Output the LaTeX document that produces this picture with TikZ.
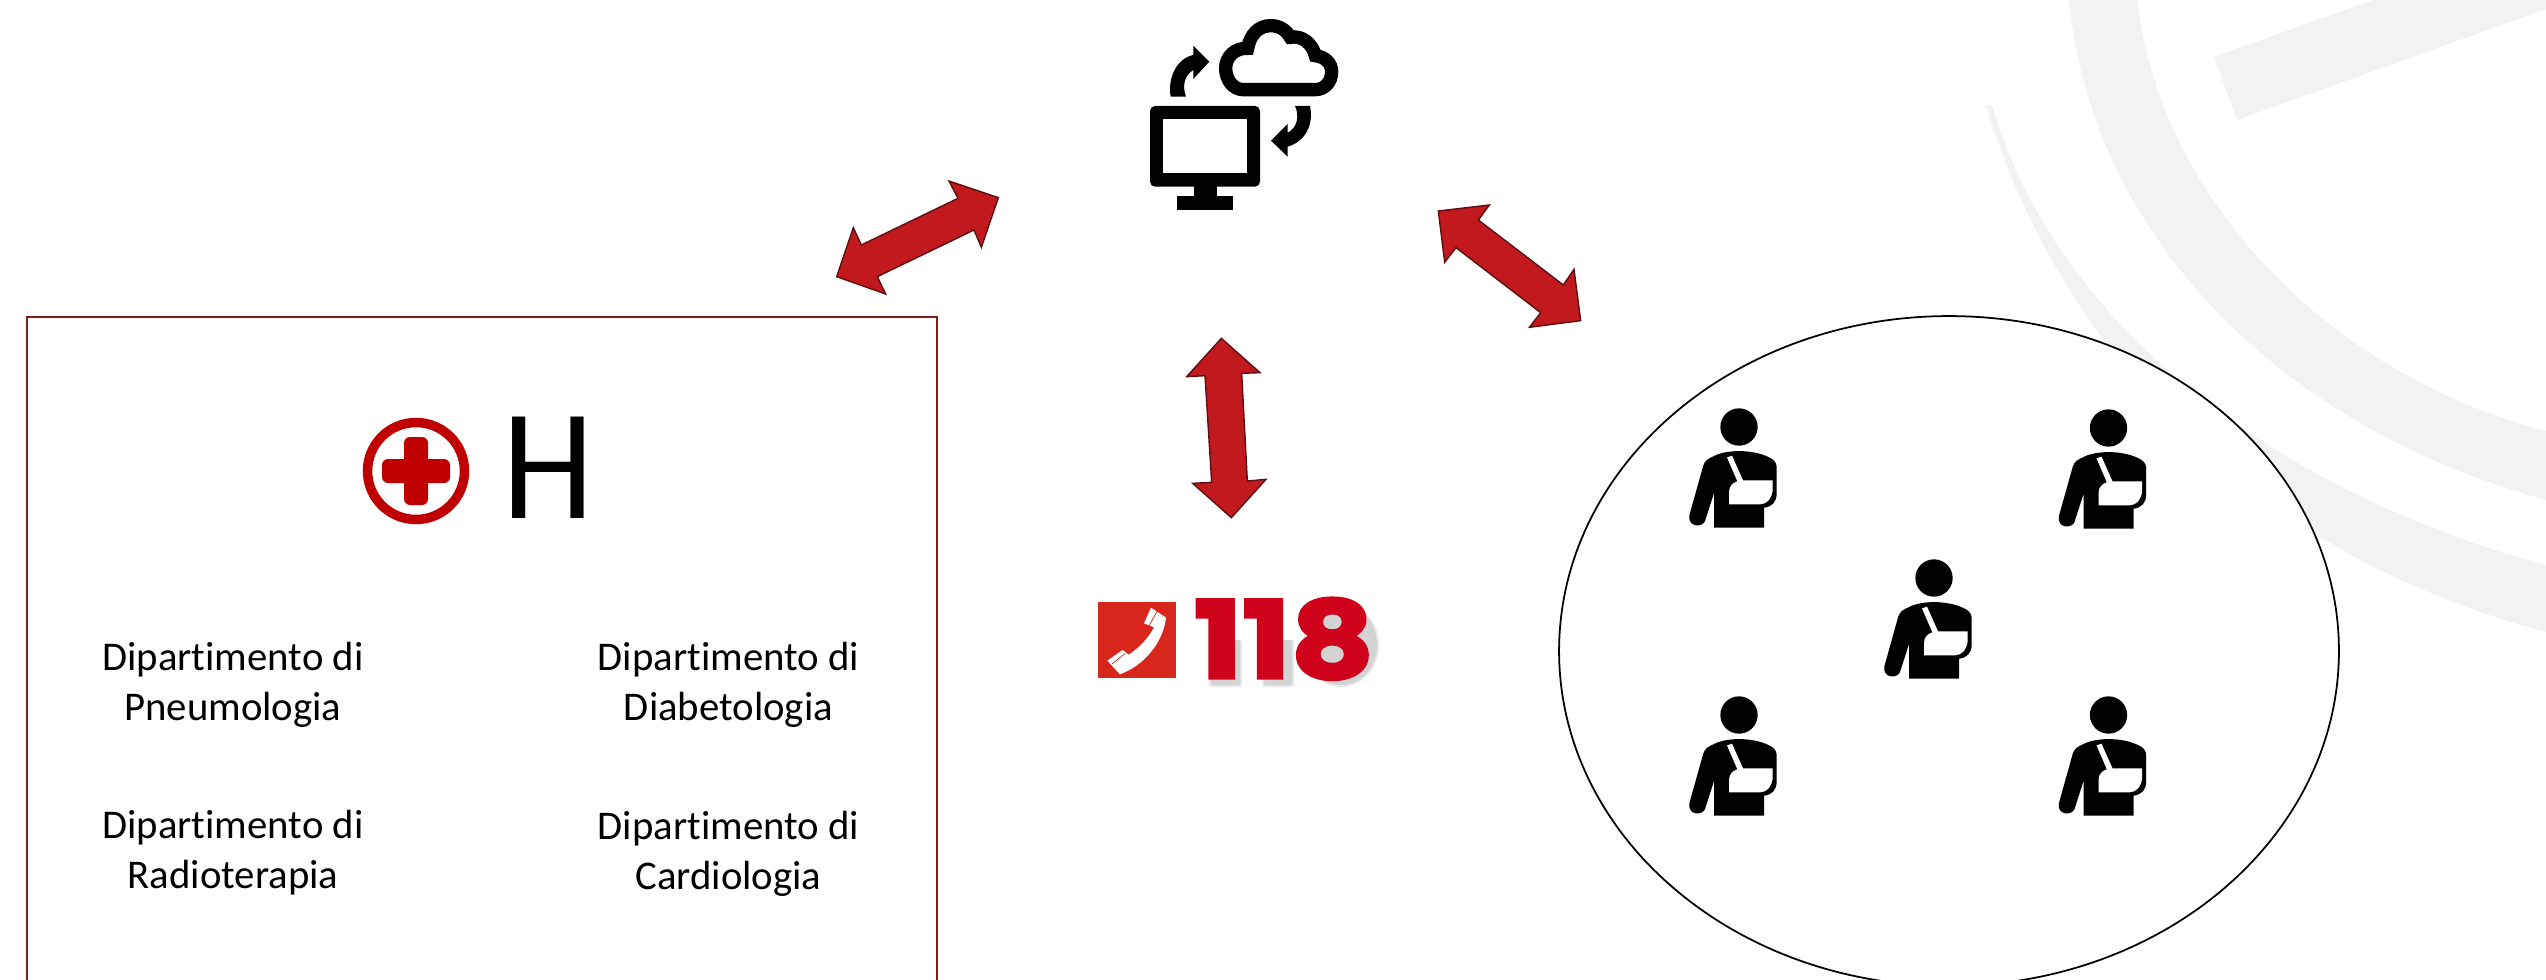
\documentclass[tikz,border=0pt]{standalone}
\usepackage{fontspec}
\setmainfont{Carlito}[Ligatures=NoCommon]
\newfontfamily\numfont[BoldFeatures={FakeBold=3.2,FakeStretch=1.2}]{Poppins}
\usetikzlibrary{shapes.geometric}
\definecolor{wm}{HTML}{F2F2F2}
\definecolor{arrowred}{HTML}{C1191E}
\definecolor{arrowline}{HTML}{5E0F0F}
\definecolor{boxline}{HTML}{7F1D1D}
\definecolor{crossred}{HTML}{C00000}
\definecolor{phonered}{HTML}{D9261C}
\definecolor{numred}{HTML}{D0021B}
\tikzset{
  x=0.02cm,y=-0.02cm,
  blockarrow/.style={fill=arrowred,draw=arrowline,line width=0.8pt,line join=miter},
  dept/.style={align=center,font=\fontsize{23.2}{28.35}\selectfont,inner sep=0pt},
  pics/injured/.style={code={
    \begin{scope}[scale=1/3,shift={(-237,-110)}]
      \fill[black] (237,110) circle[radius=56];
      \fill[black] (130,225) .. controls (135,210) and (145,205) .. (160,198)
        .. controls (200,176) and (285,176) .. (335,205)
        .. controls (345,212) and (350,220) .. (350,232) -- (350,310)
        .. controls (350,335) and (335,350) .. (312,352) -- (312,412) -- (162,412) -- (162,308)
        -- (135,392) .. controls (128,412) and (82,412) .. (88,375) -- cycle;
      \fill[white] (207,342) -- (207,305) .. controls (207,288) and (218,277) .. (232,273)
        -- (201,201) -- (216,196) -- (249,270) -- (338,270) -- (338,300)
        .. controls (335,325) and (320,342) .. (300,342) -- cycle;
    \end{scope}
  }}
}
\begin{document}
\begin{tikzpicture}
\useasboundingbox (0,0) rectangle (2546,980);
\clip (0,0) rectangle (2546,980);
\fill[white] (0,0) rectangle (2546,980);
% watermark
\fill[wm] (2069,0) .. controls (2090,220) and (2260,420) .. (2546,500) -- (2546,431)
  .. controls (2330,375) and (2160,200) .. (2137,0) -- cycle;
\fill[wm] (2214,57) -- (2237,120) -- (2546,9) -- (2546,0) -- (2373,0) -- cycle;
\fill[wm] (1986,105) .. controls (2040,290) and (2200,540) .. (2546,632) -- (2546,565)
  .. controls (2300,500) and (2060,340) .. (1992,105) -- cycle;
% containers
\node[draw=boxline,line width=1pt,fill=white,minimum width=18.2cm,minimum height=14.48cm,inner sep=0pt] (hospital) at (482,679) {};
\node[draw=black,line width=1pt,fill=white,ellipse,minimum width=15.6cm,minimum height=13.4cm,inner sep=0pt] (patients) at (1949,651) {};
% block arrows
\draw[blockarrow,shift={(800,140)},scale=1/3] (447,123) -- (595,173) -- (544,322) -- (522,270) -- (232,410) -- (257,462) -- (110,410) -- (160,263) -- (184,315) -- (474,175) -- cycle;
\draw[blockarrow,shift={(1160,320)},scale=1/3] (184,55) -- (300,158) -- (245,160) -- (262,483) -- (318,478) -- (214,593) -- (98,490) -- (155,487) -- (135,167) -- (80,170) -- cycle;
\draw[blockarrow,shift={(1420,190)},scale=1/3] (55,63) -- (208,45) -- (175,90) -- (430,285) -- (462,238) -- (482,392) -- (328,412) -- (362,368) -- (108,173) -- (74,217) -- cycle;
% computer and cloud
\begin{scope}[shift={(1080,0)},scale=1/3]
  \fill[black,rounded corners=0.1cm] (210,318) rectangle (540,560);
  \fill[white] (250,358) rectangle (500,520);
  \fill[black] (341,555) rectangle (410,595);
  \fill[black] (292,588) rectangle (458,630);
  \draw[black,line width=0.267cm,line join=miter,miter limit=2]
    (490,269) .. controls (460,269) and (437,240) .. (437,205)
    .. controls (437,170) and (465,143) .. (503,145)
    .. controls (510,105) and (535,77) .. (572,77)
    .. controls (600,77) and (620,92) .. (631,112)
    .. controls (665,105) and (697,130) .. (706,167)
    .. controls (735,170) and (755,190) .. (755,215)
    .. controls (755,245) and (735,269) .. (705,269) -- cycle;
  \fill[black] (272,290) .. controls (262,235) and (290,175) .. (340,165) -- (340,137) -- (388,185) -- (340,237) -- (340,210)
    .. controls (315,225) and (305,255) .. (318,290) -- cycle;
  \fill[black] (690,318) .. controls (702,375) and (675,425) .. (623,440) -- (623,470) -- (573,422) -- (623,372) -- (623,398)
    .. controls (650,385) and (660,350) .. (645,318) -- cycle;
\end{scope}
% 118 logo
\fill[phonered] (1098,602) rectangle (1176,678);
\begin{scope}[shift={(1050,570)},scale=1/3]
  \fill[white] (303,113) -- (348,143) .. controls (340,215) and (285,285) .. (210,313)
    -- (172,272) -- (218,240) -- (236,254) .. controls (270,232) and (298,200) .. (312,172) -- (282,160) -- cycle;
  \draw[phonered,line width=0.4pt] (296,170) -- (322,122);
  \draw[phonered,line width=0.4pt] (186,282) -- (226,250);
\end{scope}
\foreach \o/\g in {0.09/2,0.09/0}{
  \fill[black,opacity=\o,rounded corners=0.04cm] (1211-\g,640) rectangle (1240+\g,685+\g);
  \fill[black,opacity=\o,rounded corners=0.04cm] (1264-\g,640) rectangle (1292+\g,685+\g);
  \fill[black,opacity=\o] (1341,645) ellipse[x radius=36+\g,y radius=40+\g];
}
\node[anchor=base,inner sep=0pt,text=numred,font=\numfont\bfseries\fontsize{61}{61}\selectfont] (num) at (1284,678) {118};
% hospital heading
\draw[crossred,line width=0.19cm] (416,471) circle[radius=48.5];
\fill[crossred,rounded corners=0.12cm] (404,437) rectangle (428,505);
\fill[crossred,rounded corners=0.12cm] (382,459) rectangle (450,483);
\node[anchor=base,inner sep=0pt,xscale=0.93,font=\fontsize{90}{90}\selectfont] (hletter) at (548,518) {H};
% departments
\node[dept,anchor=base] (d1) at (233,720.5) {Dipartimento di\\Pneumologia};
\node[dept,anchor=base] (d2) at (728.5,720.5) {Dipartimento di\\Diabetologia};
\node[dept,anchor=base] (d3) at (233,888.5) {Dipartimento di\\Radioterapia};
\node[dept,anchor=base] (d4) at (728.5,889.5) {Dipartimento di\\Cardiologia};
% people
\pic at (1739,427) {injured};
\pic at (2108.5,428) {injured};
\pic at (1934,578) {injured};
\pic at (1739,715) {injured};
\pic at (2108.5,715) {injured};
\end{tikzpicture}
\end{document}
